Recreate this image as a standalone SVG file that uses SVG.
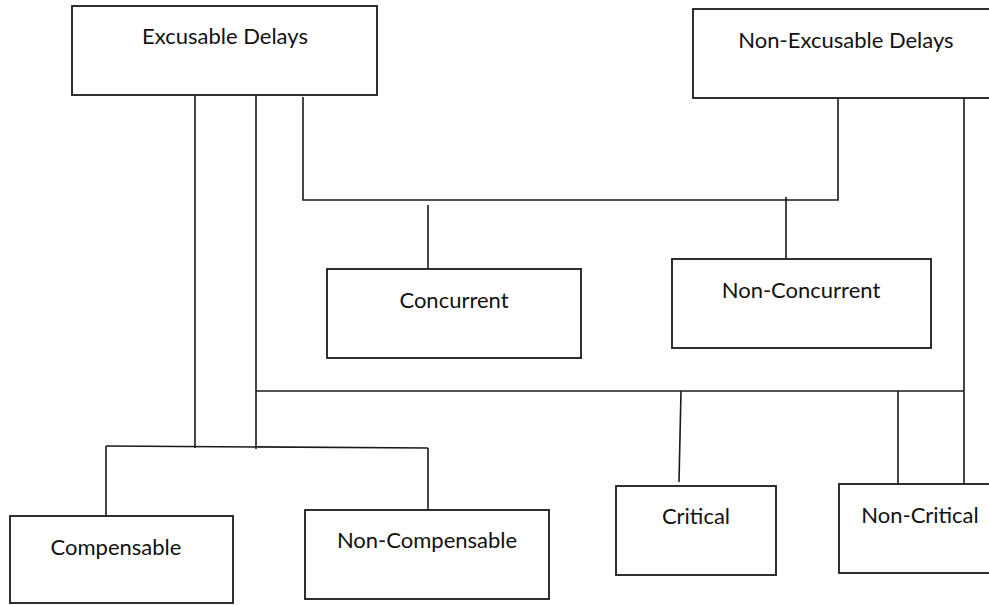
<svg xmlns="http://www.w3.org/2000/svg" width="989" height="605" viewBox="0 0 989 605">
  <style>
    .box { fill: #ffffff; stroke: #1a1a1a; stroke-width: 1.8; }
    .lbl { font-family: Lato, "Open Sans", "Liberation Sans", sans-serif; font-size: 22px; fill: #111111; text-anchor: middle; }
    .wire { fill: none; stroke: #1a1a1a; stroke-width: 1.6; }
  </style>
  <rect width="989" height="605" fill="#ffffff"/>

  <!-- connector lines -->
  <g id="connectors">
    <line class="wire" x1="195" y1="96" x2="195" y2="448"/>
    <line class="wire" x1="256" y1="96" x2="256" y2="449"/>
    <polyline class="wire" points="303,97 303,200 838,200 838,98"/>
    <line class="wire" x1="428" y1="205" x2="428" y2="269"/>
    <line class="wire" x1="786" y1="197" x2="786" y2="259"/>
    <line class="wire" x1="964" y1="98" x2="964" y2="485"/>
    <line class="wire" x1="256" y1="391" x2="964" y2="391"/>
    <line class="wire" x1="681" y1="391" x2="679" y2="482"/>
    <line class="wire" x1="898" y1="391" x2="898" y2="484"/>
    <line class="wire" x1="106" y1="446" x2="428" y2="448"/>
    <line class="wire" x1="106" y1="446" x2="106" y2="516"/>
    <line class="wire" x1="428" y1="448" x2="428" y2="510"/>
  </g>

  <!-- top level categories -->
  <g id="excusable">
    <rect class="box" x="72" y="6" width="305" height="89"/>
    <text class="lbl" x="225" y="44">Excusable Delays</text>
  </g>
  <g id="non-excusable">
    <rect class="box" x="693" y="9" width="310" height="89"/>
    <text class="lbl" x="846" y="48">Non-Excusable Delays</text>
  </g>

  <!-- concurrency -->
  <g id="concurrent">
    <rect class="box" x="327" y="269" width="254" height="89"/>
    <text class="lbl" x="454" y="308">Concurrent</text>
  </g>
  <g id="non-concurrent">
    <rect class="box" x="672" y="259" width="259" height="89"/>
    <text class="lbl" x="801" y="298">Non-Concurrent</text>
  </g>

  <!-- compensability -->
  <g id="compensable">
    <rect class="box" x="10" y="516" width="223" height="87"/>
    <text class="lbl" x="116" y="555">Compensable</text>
  </g>
  <g id="non-compensable">
    <rect class="box" x="305" y="510" width="244" height="89"/>
    <text class="lbl" x="427" y="548">Non-Compensable</text>
  </g>

  <!-- criticality -->
  <g id="critical">
    <rect class="box" x="616" y="486" width="160" height="89"/>
    <text class="lbl" x="696" y="524">Critical</text>
  </g>
  <g id="non-critical">
    <rect class="box" x="839" y="484" width="165" height="89"/>
    <text class="lbl" x="920" y="523">Non-Critical</text>
  </g>
</svg>
